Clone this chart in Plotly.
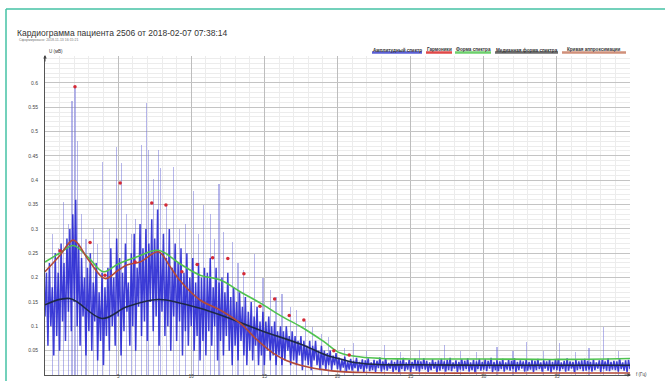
import numpy as np
import plotly.graph_objects as go

# ---------------- data ----------------
FREQ_STEP = 0.1  # Hz between amplitude spectrum samples

# amplitude spectrum, 0 .. 40 Hz, one row per Hz
amplitude = [
    0.12, 0.21, 0.06, 0.23, 0.10, 0.18, 0.04, 0.25, 0.08, 0.21,
    0.05, 0.27, 0.11, 0.23, 0.07, 0.28, 0.13, 0.30, 0.09, 0.33,
    0.15, 0.36, 0.10, 0.27, 0.06, 0.24, 0.12, 0.20, 0.04, 0.22,
    0.09, 0.25, 0.05, 0.19, 0.11, 0.23, 0.03, 0.17, 0.07, 0.21,
    0.02, 0.18, 0.08, 0.22, 0.05, 0.26, 0.10, 0.20, 0.06, 0.28,
    0.12, 0.24, 0.04, 0.21, 0.09, 0.27, 0.13, 0.19, 0.06, 0.25,
    0.10, 0.29, 0.05, 0.22, 0.14, 0.31, 0.08, 0.26, 0.11, 0.30,
    0.07, 0.27, 0.15, 0.32, 0.09, 0.28, 0.12, 0.34, 0.06, 0.25,
    0.13, 0.29, 0.08, 0.24, 0.10, 0.30, 0.05, 0.22, 0.12, 0.27,
    0.07, 0.23, 0.11, 0.26, 0.04, 0.21, 0.09, 0.25, 0.06, 0.20,
    0.10, 0.24, 0.05, 0.19, 0.08, 0.23, 0.03, 0.20, 0.07, 0.22,
    0.04, 0.21, 0.09, 0.24, 0.06, 0.18, 0.10, 0.22, 0.03, 0.19,
    0.07, 0.20, 0.04, 0.17, 0.08, 0.21, 0.05, 0.16, 0.02, 0.18,
    0.06, 0.15, 0.03, 0.17, 0.07, 0.14, 0.04, 0.16, 0.02, 0.13,
    0.05, 0.15, 0.03, 0.12, 0.06, 0.14, 0.02, 0.11, 0.04, 0.13,
    0.02, 0.11, 0.05, 0.12, 0.03, 0.10, 0.04, 0.11, 0.02, 0.09,
    0.04, 0.10, 0.02, 0.09, 0.03, 0.10, 0.05, 0.08, 0.02, 0.09,
    0.03, 0.08, 0.02, 0.07, 0.04, 0.08, 0.01, 0.07, 0.03, 0.06,
    0.02, 0.07, 0.01, 0.06, 0.03, 0.07, 0.02, 0.05, 0.01, 0.06,
    0.02, 0.05, 0.01, 0.045, 0.02, 0.05, 0.01, 0.04, 0.02, 0.045,
    0.012, 0.036, 0.008, 0.031, 0.015, 0.038, 0.006, 0.028, 0.011, 0.033,
    0.009, 0.029, 0.014, 0.035, 0.007, 0.027, 0.012, 0.032, 0.005, 0.030,
    0.013, 0.034, 0.008, 0.026, 0.010, 0.031, 0.006, 0.029, 0.014, 0.036,
    0.007, 0.028, 0.011, 0.033, 0.009, 0.025, 0.013, 0.030, 0.006, 0.027,
    0.010, 0.032, 0.005, 0.029, 0.012, 0.035, 0.008, 0.026, 0.011, 0.031,
    0.006, 0.027, 0.013, 0.033, 0.009, 0.030, 0.007, 0.028, 0.012, 0.034,
    0.011, 0.029, 0.006, 0.026, 0.010, 0.032, 0.013, 0.027, 0.005, 0.030,
    0.009, 0.033, 0.012, 0.028, 0.007, 0.031, 0.010, 0.035, 0.008, 0.026,
    0.013, 0.030, 0.006, 0.027, 0.011, 0.032, 0.009, 0.029, 0.012, 0.034,
    0.007, 0.026, 0.010, 0.031, 0.005, 0.028, 0.012, 0.033, 0.009, 0.027,
    0.011, 0.032, 0.008, 0.029, 0.013, 0.035, 0.006, 0.027, 0.010, 0.030,
    0.008, 0.028, 0.012, 0.033, 0.007, 0.026, 0.011, 0.031, 0.009, 0.029,
    0.012, 0.034, 0.006, 0.027, 0.010, 0.030, 0.013, 0.028, 0.007, 0.032,
    0.009, 0.027, 0.011, 0.031, 0.006, 0.029, 0.010, 0.033, 0.012, 0.026,
    0.007, 0.030, 0.013, 0.028, 0.009, 0.032, 0.005, 0.027, 0.011, 0.031,
    0.010, 0.033, 0.008, 0.026, 0.012, 0.029, 0.007, 0.034, 0.009, 0.028,
    0.013, 0.027, 0.006, 0.031, 0.010, 0.028, 0.012, 0.030, 0.008, 0.033,
    0.009, 0.029, 0.011, 0.027, 0.007, 0.032, 0.010, 0.026, 0.013, 0.030,
    0.006, 0.031, 0.012, 0.028, 0.009, 0.034, 0.008, 0.027, 0.011, 0.029,
    0.010, 0.028, 0.007, 0.032, 0.012, 0.026, 0.009, 0.030, 0.006, 0.031,
    0.012,
]

# isolated tall spectral peaks
peak_freq = [0.5, 0.9, 1.25, 1.6, 1.85, 2.05, 2.2, 2.5, 2.8, 3.3, 3.6, 3.95,
             4.4, 4.9, 5.25, 5.6, 5.9, 6.2, 6.58, 6.96, 7.1, 7.42, 7.76, 7.92,
             8.3, 8.79, 9.2, 9.6, 10.16, 10.5, 10.84, 11.3, 11.6, 11.9, 12.2,
             12.8, 13.2, 13.6, 14.3, 14.9, 15.4, 15.8, 16.2, 16.8, 17.2, 17.8,
             18.3, 18.9, 19.4, 20.5, 21.1, 22.0, 23.2, 24.3, 25.6, 27.3, 28.4,
             29.5, 30.9, 32.0, 32.9, 34.1, 35.2, 36.3, 37.2, 38.2, 39.2]
peak_amp = [0.29, 0.26, 0.355, 0.31, 0.562, 0.592, 0.48, 0.33, 0.28, 0.30,
            0.27, 0.437, 0.3, 0.468, 0.435, 0.33, 0.29, 0.32, 0.473, 0.558,
            0.461, 0.402, 0.461, 0.426, 0.35, 0.427, 0.3, 0.31, 0.378, 0.29,
            0.349, 0.33, 0.28, 0.392, 0.294, 0.273, 0.23, 0.215, 0.249, 0.20,
            0.174, 0.16, 0.167, 0.14, 0.133, 0.11, 0.099, 0.085, 0.078, 0.055,
            0.065, 0.05, 0.061, 0.048, 0.052, 0.061, 0.05, 0.047, 0.058, 0.049,
            0.068, 0.05, 0.065, 0.048, 0.056, 0.098, 0.05]

# harmonics (Гармоники)
harm_freq = [1.03, 2.05, 3.08, 4.1, 5.14, 6.16, 7.3, 8.27, 9.36, 10.4, 11.46,
             12.5, 13.6, 14.7, 15.7, 16.7, 17.7, 19.75, 20.8]
harm_amp = [0.255, 0.592, 0.272, 0.205, 0.394, 0.232, 0.353, 0.349, 0.212,
            0.227, 0.241, 0.239, 0.208, 0.141, 0.156, 0.122, 0.113, 0.05, 0.041]

# spectrum shape (Форма спектра)
shape_freq = [0, 1.0, 1.94, 3.0, 4.0, 5.0, 6.3, 7.76, 9.2, 10.6, 12, 13.4,
              14.7, 16.1, 17.5, 19, 20.2, 21.6, 23, 25, 30, 35, 40]
shape_amp = [0.232, 0.25, 0.266, 0.24, 0.212, 0.228, 0.243, 0.256, 0.229,
             0.205, 0.195, 0.17, 0.148, 0.122, 0.099, 0.07, 0.045, 0.037,
             0.034, 0.033, 0.033, 0.032, 0.034]

# median spectrum shape (Медианная форма спектра)
median_freq = [0, 1.7, 3.9, 5.6, 7.76, 9.2, 10.6, 12, 14.7, 17.5, 19.3, 20.2,
               21.3, 23, 25, 30, 35, 40]
median_amp = [0.144, 0.157, 0.116, 0.14, 0.155, 0.148, 0.137, 0.123, 0.092,
              0.063, 0.04, 0.033, 0.025, 0.021, 0.021, 0.02, 0.02, 0.02]

# approximation curve (Кривая аппроксимации)
approx_freq = [0, 1.0, 1.94, 3.0, 4.1, 5.0, 5.6, 6.5, 7.76, 8.5, 9.2, 10.6,
               12, 13.4, 14.5, 15.6, 16.5, 17.9, 19, 20.2, 22, 25, 30, 35, 40]
approx_amp = [0.212, 0.245, 0.277, 0.235, 0.198, 0.215, 0.226, 0.232, 0.253,
              0.225, 0.195, 0.154, 0.133, 0.105, 0.072, 0.045, 0.03, 0.017,
              0.011, 0.007, 0.005, 0.004, 0.004, 0.004, 0.004]

y_ticks = [0.05, 0.1, 0.15, 0.2, 0.25, 0.3, 0.35, 0.4, 0.45, 0.5, 0.55, 0.6]
y_tick_text = ["0.05", "0.1", "0.15", "0.2", "0.25", "0.3", "0.35", "0.4",
               "0.45", "0.5", "0.55", "0.6"]
x_ticks = [5, 10, 15, 20, 25, 30, 35]

legend_items = [
    ("Амплитудный спектр", "#5a5fd6"),
    ("Гармоники", "#e04848"),
    ("Форма спектра", "#6cd06c"),
    ("Медианная форма спектра", "#6a6a6a"),
    ("Кривая аппроксимации", "#d0907a"),
]

# ---------------- layout geometry ----------------
W, H = 665, 381
ML, MR, MT, MB = 45, 35, 56, 6
PW, PH = W - ML - MR, H - MT - MB


def px(x):
    return (x - ML) / PW


def py(y):
    return (H - MB - y) / PH


FONT = "Liberation Sans, Arial, sans-serif"
freq = np.round(np.arange(len(amplitude)) * FREQ_STEP, 2)

fig = go.Figure()

fig.add_trace(go.Bar(
    x=peak_freq, y=peak_amp, width=0.08,
    marker=dict(color="rgba(110,110,215,0.5)", line=dict(width=0)),
    hoverinfo="skip",
))
fig.add_trace(go.Scatter(
    x=freq, y=amplitude, mode="lines",
    line=dict(color="rgba(35,35,210,0.88)", width=1.5),
))
fig.add_trace(go.Scatter(
    x=shape_freq, y=shape_amp, mode="lines", line_shape="spline",
    line=dict(color="#4fc24f", width=1.6),
))
fig.add_trace(go.Scatter(
    x=median_freq, y=median_amp, mode="lines", line_shape="spline",
    line=dict(color="#1d2848", width=1.6),
))
fig.add_trace(go.Scatter(
    x=approx_freq, y=approx_amp, mode="lines", line_shape="spline",
    line=dict(color="#b24a38", width=1.6),
))
fig.add_trace(go.Scatter(
    x=harm_freq, y=harm_amp, mode="markers",
    marker=dict(color="#d42a36", size=3.5),
))

annotations = [
    dict(x=px(15), y=py(33), text="Кардиограмма пациента 2506 от 2018-02-07 07:38:14",
         font=dict(size=8.5, color="#333333", family=FONT)),
    dict(x=px(17), y=py(40.5), text="Сформировано: 2018-11-13 16:15:21",
         font=dict(size=3.5, color="#777777", family=FONT)),
    dict(x=px(47), y=py(51), text="U (мВ)",
         font=dict(size=4.5, color="#333333", family=FONT)),
    dict(x=px(634), y=py(374.5), text="f (Гц)",
         font=dict(size=4.5, color="#333333", family=FONT)),
]
for a in annotations:
    a.update(xref="paper", yref="paper", xanchor="left", yanchor="middle",
             showarrow=False)

# axis arrowheads
annotations.append(dict(x=px(45), y=py(55), xref="paper", yref="paper",
                        ax=0, ay=8, showarrow=True, arrowhead=2,
                        arrowsize=0.7, arrowwidth=1, arrowcolor="#444444",
                        text=""))
annotations.append(dict(x=px(631), y=py(375), xref="paper", yref="paper",
                        ax=-8, ay=0, showarrow=True, arrowhead=2,
                        arrowsize=0.7, arrowwidth=1, arrowcolor="#444444",
                        text=""))

shapes = []
# legend row
legend_spans = [(372, 422), (426, 452), (455, 491), (495, 558), (562, 626)]
for (label, color), (x0, x1) in zip(legend_items, legend_spans):
    shapes.append(dict(type="line", xref="paper", yref="paper",
                       x0=px(x0), x1=px(x1), y0=py(52.5), y1=py(52.5),
                       line=dict(color=color, width=2.5)))
    annotations.append(dict(x=px((x0 + x1) / 2), y=py(50), xref="paper",
                            yref="paper", xanchor="center", yanchor="middle",
                            showarrow=False, text="<b>%s</b>" % label,
                            font=dict(size=4.6, color="#333333", family=FONT)))

# page frame
frame = "#45c2a5"
shapes.append(dict(type="line", xref="paper", yref="paper", x0=px(6), x1=px(666),
                   y0=py(9), y1=py(9), line=dict(color=frame, width=1.5)))
shapes.append(dict(type="line", xref="paper", yref="paper", x0=px(6), x1=px(6),
                   y0=py(9), y1=py(382), line=dict(color=frame, width=1.5)))

fig.update_layout(
    width=W, height=H,
    margin=dict(l=ML, r=MR, t=MT, b=MB, autoexpand=False),
    paper_bgcolor="white", plot_bgcolor="white",
    showlegend=False, bargap=0,
    annotations=annotations, shapes=shapes,
    font=dict(family=FONT, color="#333333"),
    xaxis=dict(
        range=[0, 40], tickvals=x_ticks, ticks="", showline=True,
        linecolor="#555555", linewidth=1, zeroline=False,
        showgrid=True, gridcolor="#bdbdbd", gridwidth=1,
        minor=dict(dtick=1, showgrid=True, gridcolor="#ececec", gridwidth=1),
        tickfont=dict(size=4.5, color="#444444"), automargin=False,
        ticklabelstandoff=-3,
    ),
    yaxis=dict(
        range=[0, 0.655], tickvals=y_ticks, ticktext=y_tick_text, ticks="",
        showline=True, linecolor="#555555", linewidth=1, zeroline=False,
        showgrid=True, gridcolor="#c4c4c4", gridwidth=1,
        minor=dict(dtick=0.01, showgrid=True, gridcolor="#ececec", gridwidth=1),
        tickfont=dict(size=5, color="#444444"), automargin=False,
        ticklabelstandoff=5,
    ),
)

fig.write_html("out.html")
